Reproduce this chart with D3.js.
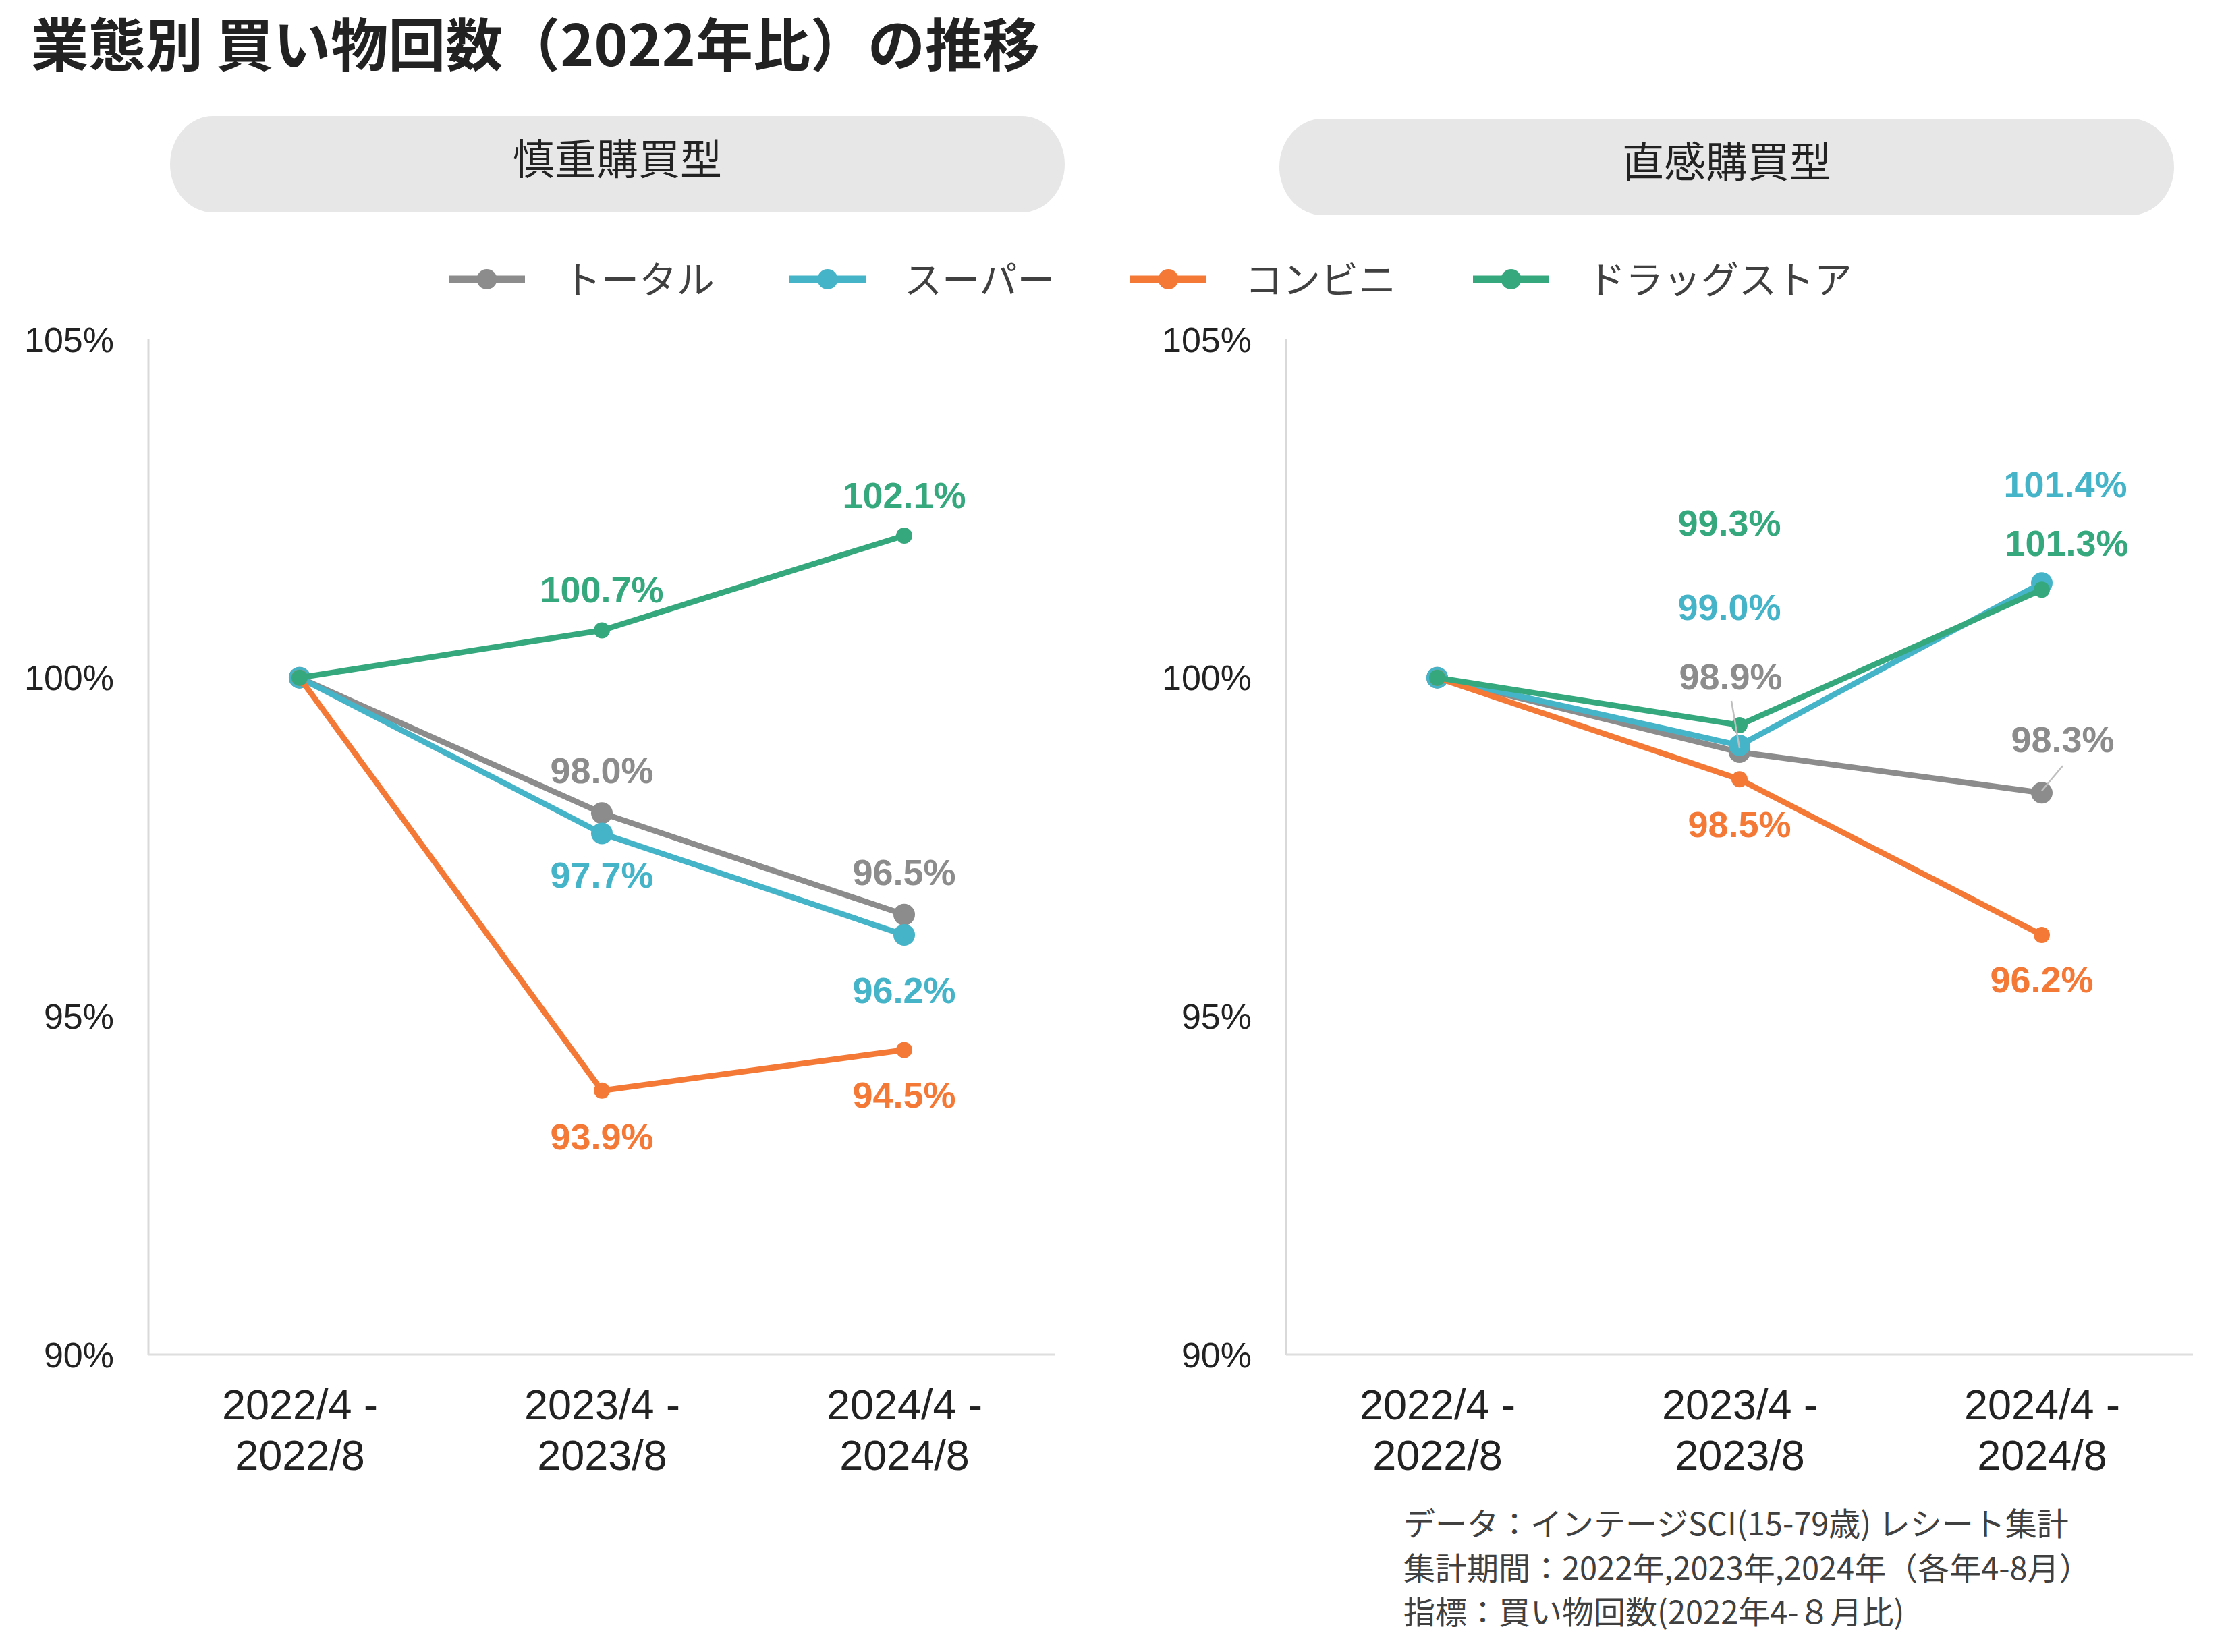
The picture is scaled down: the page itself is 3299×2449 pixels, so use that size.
<!DOCTYPE html>
<html><head><meta charset="utf-8">
<script src="https://cdn.jsdelivr.net/npm/d3@7"></script>
<style>
html,body{margin:0;padding:0;background:#fff;}
svg{display:block;}
</style></head>
<body>
<svg id="chart" width="3299" height="2449"></svg>
<script>
// ---------- DATA ----------
const title = "業態別 買い物回数（2022年比）の推移";
const panelNames = ["慎重購買型", "直感購買型"];
const categories = ["2022/4 - 2022/8", "2023/4 - 2023/8", "2024/4 - 2024/8"];
const categoryLines = [["2022/4 -", "2022/8"], ["2023/4 -", "2023/8"], ["2024/4 -", "2024/8"]];
const seriesNames = ["トータル", "スーパー", "コンビニ", "ドラッグストア"];
const yTicks = [90, 95, 100, 105];
const yTickLabels = ["90%", "95%", "100%", "105%"];

// 慎重購買型
const carefulTotal = [100, 98.0, 96.5];
const carefulSuper = [100, 97.7, 96.2];
const carefulConv  = [100, 93.9, 94.5];
const carefulDrug  = [100, 100.7, 102.1];
// 直感購買型
const impulseTotal = [100, 98.9, 98.3];
const impulseSuper = [100, 99.0, 101.4];
const impulseConv  = [100, 98.5, 96.2];
const impulseDrug  = [100, 99.3, 101.3];

const footnotes = [
  "データ：インテージSCI(15-79歳) レシート集計",
  "集計期間：2022年,2023年,2024年（各年4-8月）",
  "指標：買い物回数(2022年4-８月比)"
];

// ---------- STYLE / LAYOUT ----------
const colors = ["#8c8c8c", "#45b4c8", "#f47937", "#36a87e"];
const markerR = [16, 16, 12, 12];
const latin = "'Liberation Sans', Arial, sans-serif";
const cjk = "'Noto Sans CJK JP', 'Noto Sans', sans-serif";

const panels = [
  { name: panelNames[0], axisX: 220, pill: [252, 172, 1326, 143],
    series: [carefulTotal, carefulSuper, carefulConv, carefulDrug],
    labels: [
      [null, [0, -63], [0, -63]],
      [null, [0, 62], [0, 82]],
      [null, [0, 68], [0, 66]],
      [null, [0, -60], [0, -60]]
    ],
    leaders: [] },
  { name: panelNames[1], axisX: 1906, pill: [1896, 176, 1326, 143],
    series: [impulseTotal, impulseSuper, impulseConv, impulseDrug],
    labels: [
      [null, [-13, -112], [31, -79]],
      [null, [-15, -205], [35, -146]],
      [null, [0, 67], [0, 66]],
      [null, [-15, -300], [37, -69]]
    ],
    leaders: [ {s: 0, i: 1, from: [-12, -76], to: [0, -6]},
               {s: 0, i: 2, from: [31, -40], to: [0, -3]} ] }
];

const plotW = 1344;
const yTop = 503, yBottom = 2008;

const svg = d3.select("#chart");

// Title
svg.append("text")
  .attr("x", 46).attr("y", 60)
  .attr("dominant-baseline", "central")
  .style("font-family", cjk).style("font-weight", 700)
  .style("font-size", "85px").style("fill", "#222")
  .text(title);

const y = d3.scaleLinear().domain([90, 105]).range([yBottom, yTop]);

panels.forEach(p => {
  const g = svg.append("g");
  const [px, py, pw, ph] = p.pill;
  g.append("rect").attr("x", px).attr("y", py).attr("width", pw).attr("height", ph)
    .attr("rx", 64).attr("ry", ph / 2).attr("fill", "#e7e7e7");
  g.append("text").attr("x", px + pw / 2).attr("y", py + ph / 2 - 12)
    .attr("text-anchor", "middle").attr("dominant-baseline", "central")
    .style("font-family", cjk).style("font-size", "62px").style("fill", "#222")
    .text(p.name);

  const x = d3.scalePoint().domain(categories).range([p.axisX, p.axisX + plotW]).padding(0.5);

  const yAxis = d3.axisLeft(y).tickValues(yTicks).tickSize(0).tickPadding(51)
    .tickFormat((d, i) => yTickLabels[i]);
  const ya = g.append("g").attr("transform", `translate(${p.axisX},0)`).call(yAxis);
  ya.select(".domain").remove();
  ya.selectAll("text").style("font-family", latin).style("font-size", "52px")
    .style("fill", "#222").attr("dy", "0.35em");
  g.append("line").attr("x1", p.axisX).attr("x2", p.axisX).attr("y1", yTop).attr("y2", yBottom)
    .attr("stroke", "#d9d9d9").attr("stroke-width", 3);

  const xAxis = d3.axisBottom(x).tickSize(0).tickFormat(() => "");
  const xa = g.append("g").attr("transform", `translate(0,${yBottom})`).call(xAxis);
  xa.select(".domain").attr("stroke", "#dedede").attr("stroke-width", 3)
    .attr("d", `M${p.axisX},0H${p.axisX + plotW}`);
  xa.selectAll(".tick").each(function (d, i) {
    const t = d3.select(this).select("text");
    t.attr("y", 0).attr("dy", null)
      .style("font-family", latin).style("font-size", "63px").style("fill", "#222");
    t.text(null);
    categoryLines[i].forEach((ln, k) => {
      t.append("tspan").attr("x", 0).attr("y", 74 + k * 75)
        .attr("dominant-baseline", "central").text(ln);
    });
  });

  const line = d3.line().x((d, i) => x(categories[i])).y(d => y(d));
  p.series.forEach((vals, s) => {
    g.append("path").datum(vals).attr("d", line)
      .attr("fill", "none").attr("stroke", colors[s]).attr("stroke-width", 8.5)
      .attr("stroke-linejoin", "round");
    g.selectAll(null).data(vals).enter().append("circle")
      .attr("cx", (d, i) => x(categories[i])).attr("cy", d => y(d))
      .attr("r", markerR[s]).attr("fill", colors[s]);
  });

  p.leaders.forEach(l => {
    const cx = x(categories[l.i]), cy = y(p.series[l.s][l.i]);
    g.append("line")
      .attr("x1", cx + l.from[0]).attr("y1", cy + l.from[1])
      .attr("x2", cx + l.to[0]).attr("y2", cy + l.to[1])
      .attr("stroke", "#bfbfbf").attr("stroke-width", 2.5);
  });

  p.series.forEach((vals, s) => {
    vals.forEach((v, i) => {
      const off = p.labels[s][i];
      if (!off) return;
      g.append("text")
        .attr("x", x(categories[i]) + off[0]).attr("y", y(v) + off[1])
        .attr("text-anchor", "middle").attr("dominant-baseline", "central")
        .style("font-family", latin).style("font-weight", 700).style("font-size", "54px")
        .style("fill", colors[s])
        .text(d3.format(".1f")(v) + "%");
    });
  });
});

// legend
const legendX = [665, 1170, 1675, 2183];
const legendY = 414;
seriesNames.forEach((name, s) => {
  const lg = svg.append("g").attr("transform", `translate(${legendX[s]},${legendY})`);
  lg.append("line").attr("x1", 0).attr("x2", 113).attr("y1", 0).attr("y2", 0)
    .attr("stroke", colors[s]).attr("stroke-width", 11);
  lg.append("circle").attr("cx", 56.5).attr("cy", 0).attr("r", 15).attr("fill", colors[s]);
  lg.append("text").attr("x", 170).attr("y", -4).attr("dominant-baseline", "central")
    .style("font-family", cjk).style("font-size", "56px").style("fill", "#404040")
    .text(name);
});

// footnotes
const fy = [2255, 2321, 2386];
footnotes.forEach((t, i) => {
  svg.append("text").attr("x", 2080).attr("y", fy[i]).attr("dominant-baseline", "central")
    .style("font-family", cjk).style("font-size", "47px").style("fill", "#404040")
    .text(t);
});
</script>
</body></html>
